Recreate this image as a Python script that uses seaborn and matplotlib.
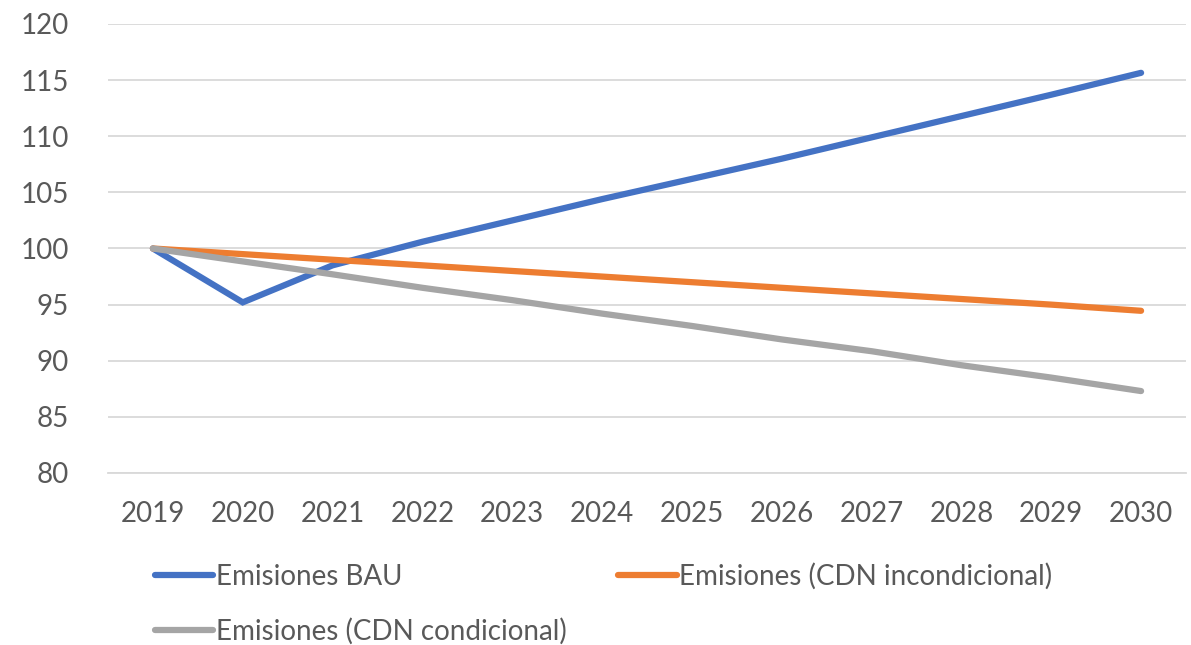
import matplotlib
matplotlib.use("Agg")
import matplotlib.pyplot as plt
import seaborn as sns
import pandas as pd

# Data
years = [2019, 2020, 2021, 2022, 2023, 2024, 2025, 2026, 2027, 2028, 2029, 2030]
bau = [100, 95.2, 98.5, 100.6, 102.5, 104.4, 106.2, 108.0, 109.9, 111.8, 113.7, 115.65]
cdn_incond = [100, 99.5, 99.0, 98.5, 98.0, 97.5, 97.0, 96.5, 96.0, 95.5, 95.0, 94.45]
cdn_cond = [100, 98.85, 97.7, 96.5, 95.4, 94.2, 93.1, 91.9, 90.85, 89.6, 88.5, 87.3]

names = ["Emisiones BAU", "Emisiones (CDN incondicional)", "Emisiones (CDN condicional)"]
colors = ["#4472C4", "#ED7D31", "#A5A5A5"]

df = pd.concat([
    pd.DataFrame({"Año": years, "Valor": bau, "Serie": names[0]}),
    pd.DataFrame({"Año": years, "Valor": cdn_incond, "Serie": names[1]}),
    pd.DataFrame({"Año": years, "Valor": cdn_cond, "Serie": names[2]}),
])

sns.set_style("white")
plt.rcParams["font.family"] = ["Lato", "DejaVu Sans"]

fig = plt.figure(figsize=(11.91, 6.45), dpi=100)
ax = fig.add_axes([108 / 1191, 1 - 473 / 645, (1186 - 108) / 1191, (473 - 24) / 645])

sns.lineplot(
    data=df, x="Año", y="Valor", hue="Serie",
    palette=dict(zip(names, colors)), hue_order=names,
    linewidth=4.5, ax=ax, legend=False,
    solid_capstyle="round", solid_joinstyle="miter",
)

ax.set_xlim(2018.5, 2030.5)
ax.set_ylim(80, 120)
ax.set_yticks(range(80, 121, 5))
ax.set_xticks(years)
ax.set_xticklabels([str(y) for y in years])
ax.set_xlabel("")
ax.set_ylabel("")
ax.grid(axis="y", color="#D9D9D9", linewidth=1.3)
ax.set_axisbelow(True)
for s in ["top", "right", "left"]:
    ax.spines[s].set_visible(False)
ax.spines["bottom"].set_color("#D9D9D9")
ax.spines["bottom"].set_linewidth(1.3)
ax.tick_params(axis="both", length=0, labelsize=20, colors="#595959")
ax.tick_params(axis="x", pad=20)
ax.tick_params(axis="y", pad=28)

# legend: column 1 = BAU, cond; column 2 = incond
order = [0, 2, 1]
handles = [plt.Line2D([], [], color=colors[i], linewidth=4.5, solid_capstyle="round") for i in order]
labels = [names[i] for i in order]
fig.legend(
    handles, labels, ncol=2, loc="upper left",
    bbox_to_anchor=(155 / 1191, 1 - 563 / 645),
    frameon=False, fontsize=20, labelcolor="#595959",
    handlelength=2.1, handletextpad=0.1, columnspacing=1.85,
    labelspacing=1.0, borderpad=0, borderaxespad=0,
)

fig.savefig("out.png", dpi=100)
